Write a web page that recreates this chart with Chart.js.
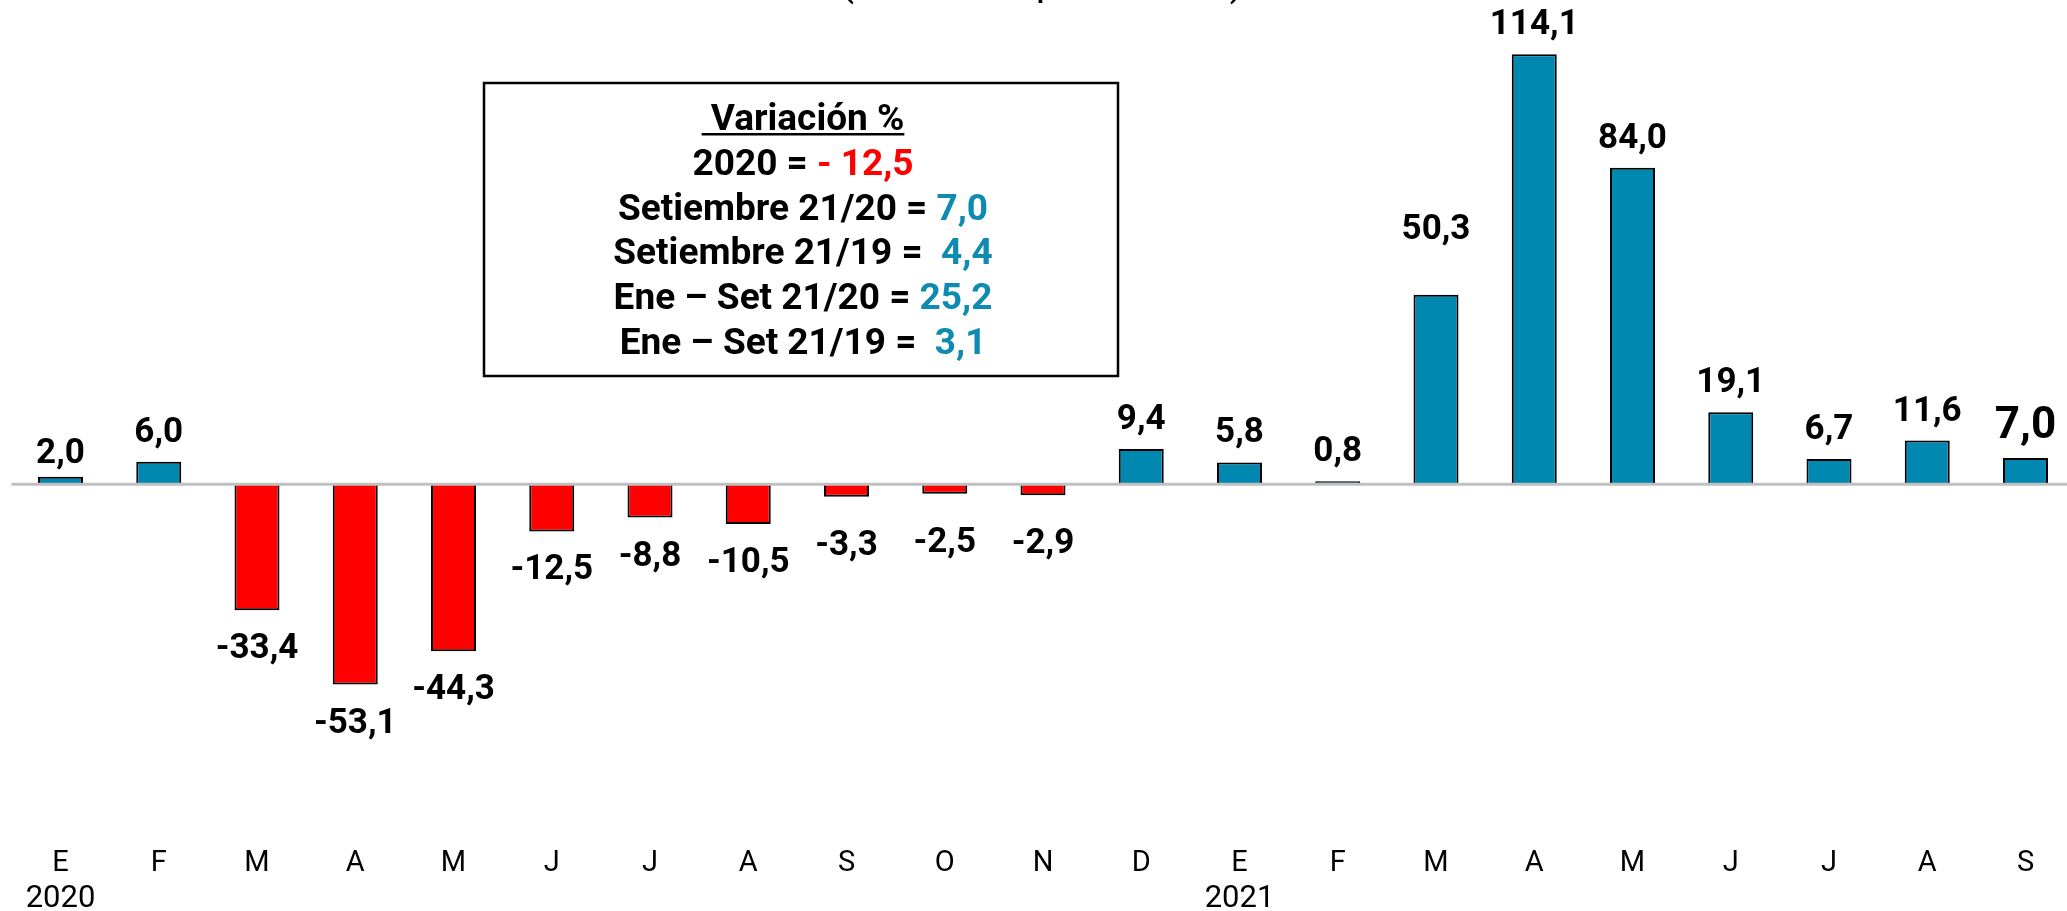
<!DOCTYPE html>
<html>
<head>
<meta charset="utf-8">
<script src="https://cdn.jsdelivr.net/npm/chart.js@4.4.1/dist/chart.umd.min.js"></script>
<style>
  html, body { margin: 0; padding: 0; background: #ffffff; }
  #wrap { width: 2067px; height: 911px; position: relative; }
</style>
</head>
<body>
<div id="wrap"><canvas id="c" width="2067" height="911"></canvas></div>
<script>
// ---- data ----
const categories = ['E','F','M','A','M','J','J','A','S','O','N','D','E','F','M','A','M','J','J','A','S'];
const values = [2.0, 6.0, -33.4, -53.1, -44.3, -12.5, -8.8, -10.5, -3.3, -2.5, -2.9, 9.4, 5.8, 0.8, 50.3, 114.1, 84.0, 19.1, 6.7, 11.6, 7.0];
const yearIndex = [0, 12];
const yearText = ['2020', '2021'];
const titleText = '(Variación porcentual)';
const boxHeading = ' Variación %';
const boxLabels = ['2020 = ', 'Setiembre 21/20 = ', 'Setiembre 21/19 =  ', 'Ene \u2013 Set 21/20 = ', 'Ene \u2013 Set 21/19 =  '];
const boxValues = ['- 12,5', '7,0', '4,4', '25,2', '3,1'];

// ---- styles ----
const BLUE = '#0088B0';
const RED = '#FF0000';
const TEXT_BLUE = '#0F8BB2';

function fmt(v) { return v.toFixed(1).replace('.', ','); }

const extrasPlugin = {
  id: 'extras',
  afterDatasetsDraw(chart) {
    const ctx = chart.ctx;
    const xs = chart.scales.x, ys = chart.scales.y;
    const step = xs.getPixelForValue(1) - xs.getPixelForValue(0);
    const y0 = ys.getPixelForValue(0);
    // zero line
    ctx.save();
    ctx.strokeStyle = '#C0C0C0';
    ctx.lineWidth = 3;
    ctx.beginPath();
    ctx.moveTo(xs.getPixelForValue(0) - step / 2, y0);
    ctx.lineTo(chart.width, y0);
    ctx.stroke();
    ctx.restore();

    // data labels
    const meta = chart.getDatasetMeta(0);
    ctx.save();
    ctx.fillStyle = '#000';
    ctx.textAlign = 'center';
    ctx.textBaseline = 'alphabetic';
    meta.data.forEach((bar, i) => {
      const v = values[i];
      const last = i === values.length - 1;
      const size = last ? 44 : 35;
      ctx.font = 'bold ' + size + 'px Roboto';
      let y;
      if (v >= 0) {
        y = bar.y - 20;
        if (i === 14) y -= 36;
        if (i === 0) y += 6;
      } else {
        y = bar.y + 23 + 25;
        if (Math.abs(v) < 4) y += 10;
      }
      ctx.fillText(fmt(v), bar.x, y);
    });
    ctx.restore();
  },
  afterDraw(chart) {
    const ctx = chart.ctx;
    const xs = chart.scales.x;
    ctx.save();
    // year labels
    ctx.fillStyle = '#000';
    ctx.textAlign = 'center';
    ctx.textBaseline = 'alphabetic';
    ctx.font = '31px Roboto';
    yearIndex.forEach((idx, k) => {
      ctx.fillText(yearText[k], xs.getPixelForValue(idx), 907);
    });

    // clipped title at the top
    ctx.font = '41px Roboto';
    ctx.fillText(titleText, 1042, -5);

    // annotation box
    const bx = 484, by = 83, bw = 634, bh = 293;
    ctx.fillStyle = '#fff';
    ctx.fillRect(bx, by, bw, bh);
    ctx.strokeStyle = '#000';
    ctx.lineWidth = 2.5;
    ctx.strokeRect(bx, by, bw, bh);

    const cx = 803;
    const lineStep = 44.8;
    let base = 117 + 13;
    ctx.font = 'bold 37px Roboto';
    ctx.textAlign = 'left';
    // heading underlined
    let w = ctx.measureText(boxHeading).width;
    ctx.fillStyle = '#000';
    ctx.fillText(boxHeading, cx - w / 2, base);
    ctx.fillRect(cx - w / 2, base + 3, w, 2.5);
    for (let k = 0; k < boxLabels.length; k++) {
      base += lineStep;
      const w1 = ctx.measureText(boxLabels[k]).width;
      const w2 = ctx.measureText(boxValues[k]).width;
      const sx = cx - (w1 + w2) / 2;
      ctx.fillStyle = '#000';
      ctx.fillText(boxLabels[k], sx, base);
      ctx.fillStyle = k === 0 ? RED : TEXT_BLUE;
      ctx.fillText(boxValues[k], sx + w1, base);
    }
    ctx.restore();
  }
};

new Chart(document.getElementById('c'), {
  type: 'bar',
  data: {
    labels: categories,
    datasets: [{
      data: values,
      backgroundColor: (c) => (values[c.dataIndex] < 0 ? RED : BLUE),
      borderColor: '#000',
      borderWidth: 2,
      categoryPercentage: 1,
      barPercentage: 0.458,
      clip: false
    }]
  },
  options: {
    responsive: false,
    animation: false,
    devicePixelRatio: 1,
    layout: { padding: { top: 32, left: 60.5, right: 41.5, bottom: 14.2 } },
    plugins: { legend: { display: false }, tooltip: { enabled: false }, title: { display: false } },
    scales: {
      x: {
        offset: false,
        grid: { display: false },
        border: { display: false },
        ticks: { color: '#000', font: { family: 'Roboto', size: 29 }, padding: 15.2, maxRotation: 0, autoSkip: false }
      },
      y: {
        display: false,
        min: -90,
        max: 120
      }
    }
  },
  plugins: [extrasPlugin]
});
</script>
</body>
</html>
